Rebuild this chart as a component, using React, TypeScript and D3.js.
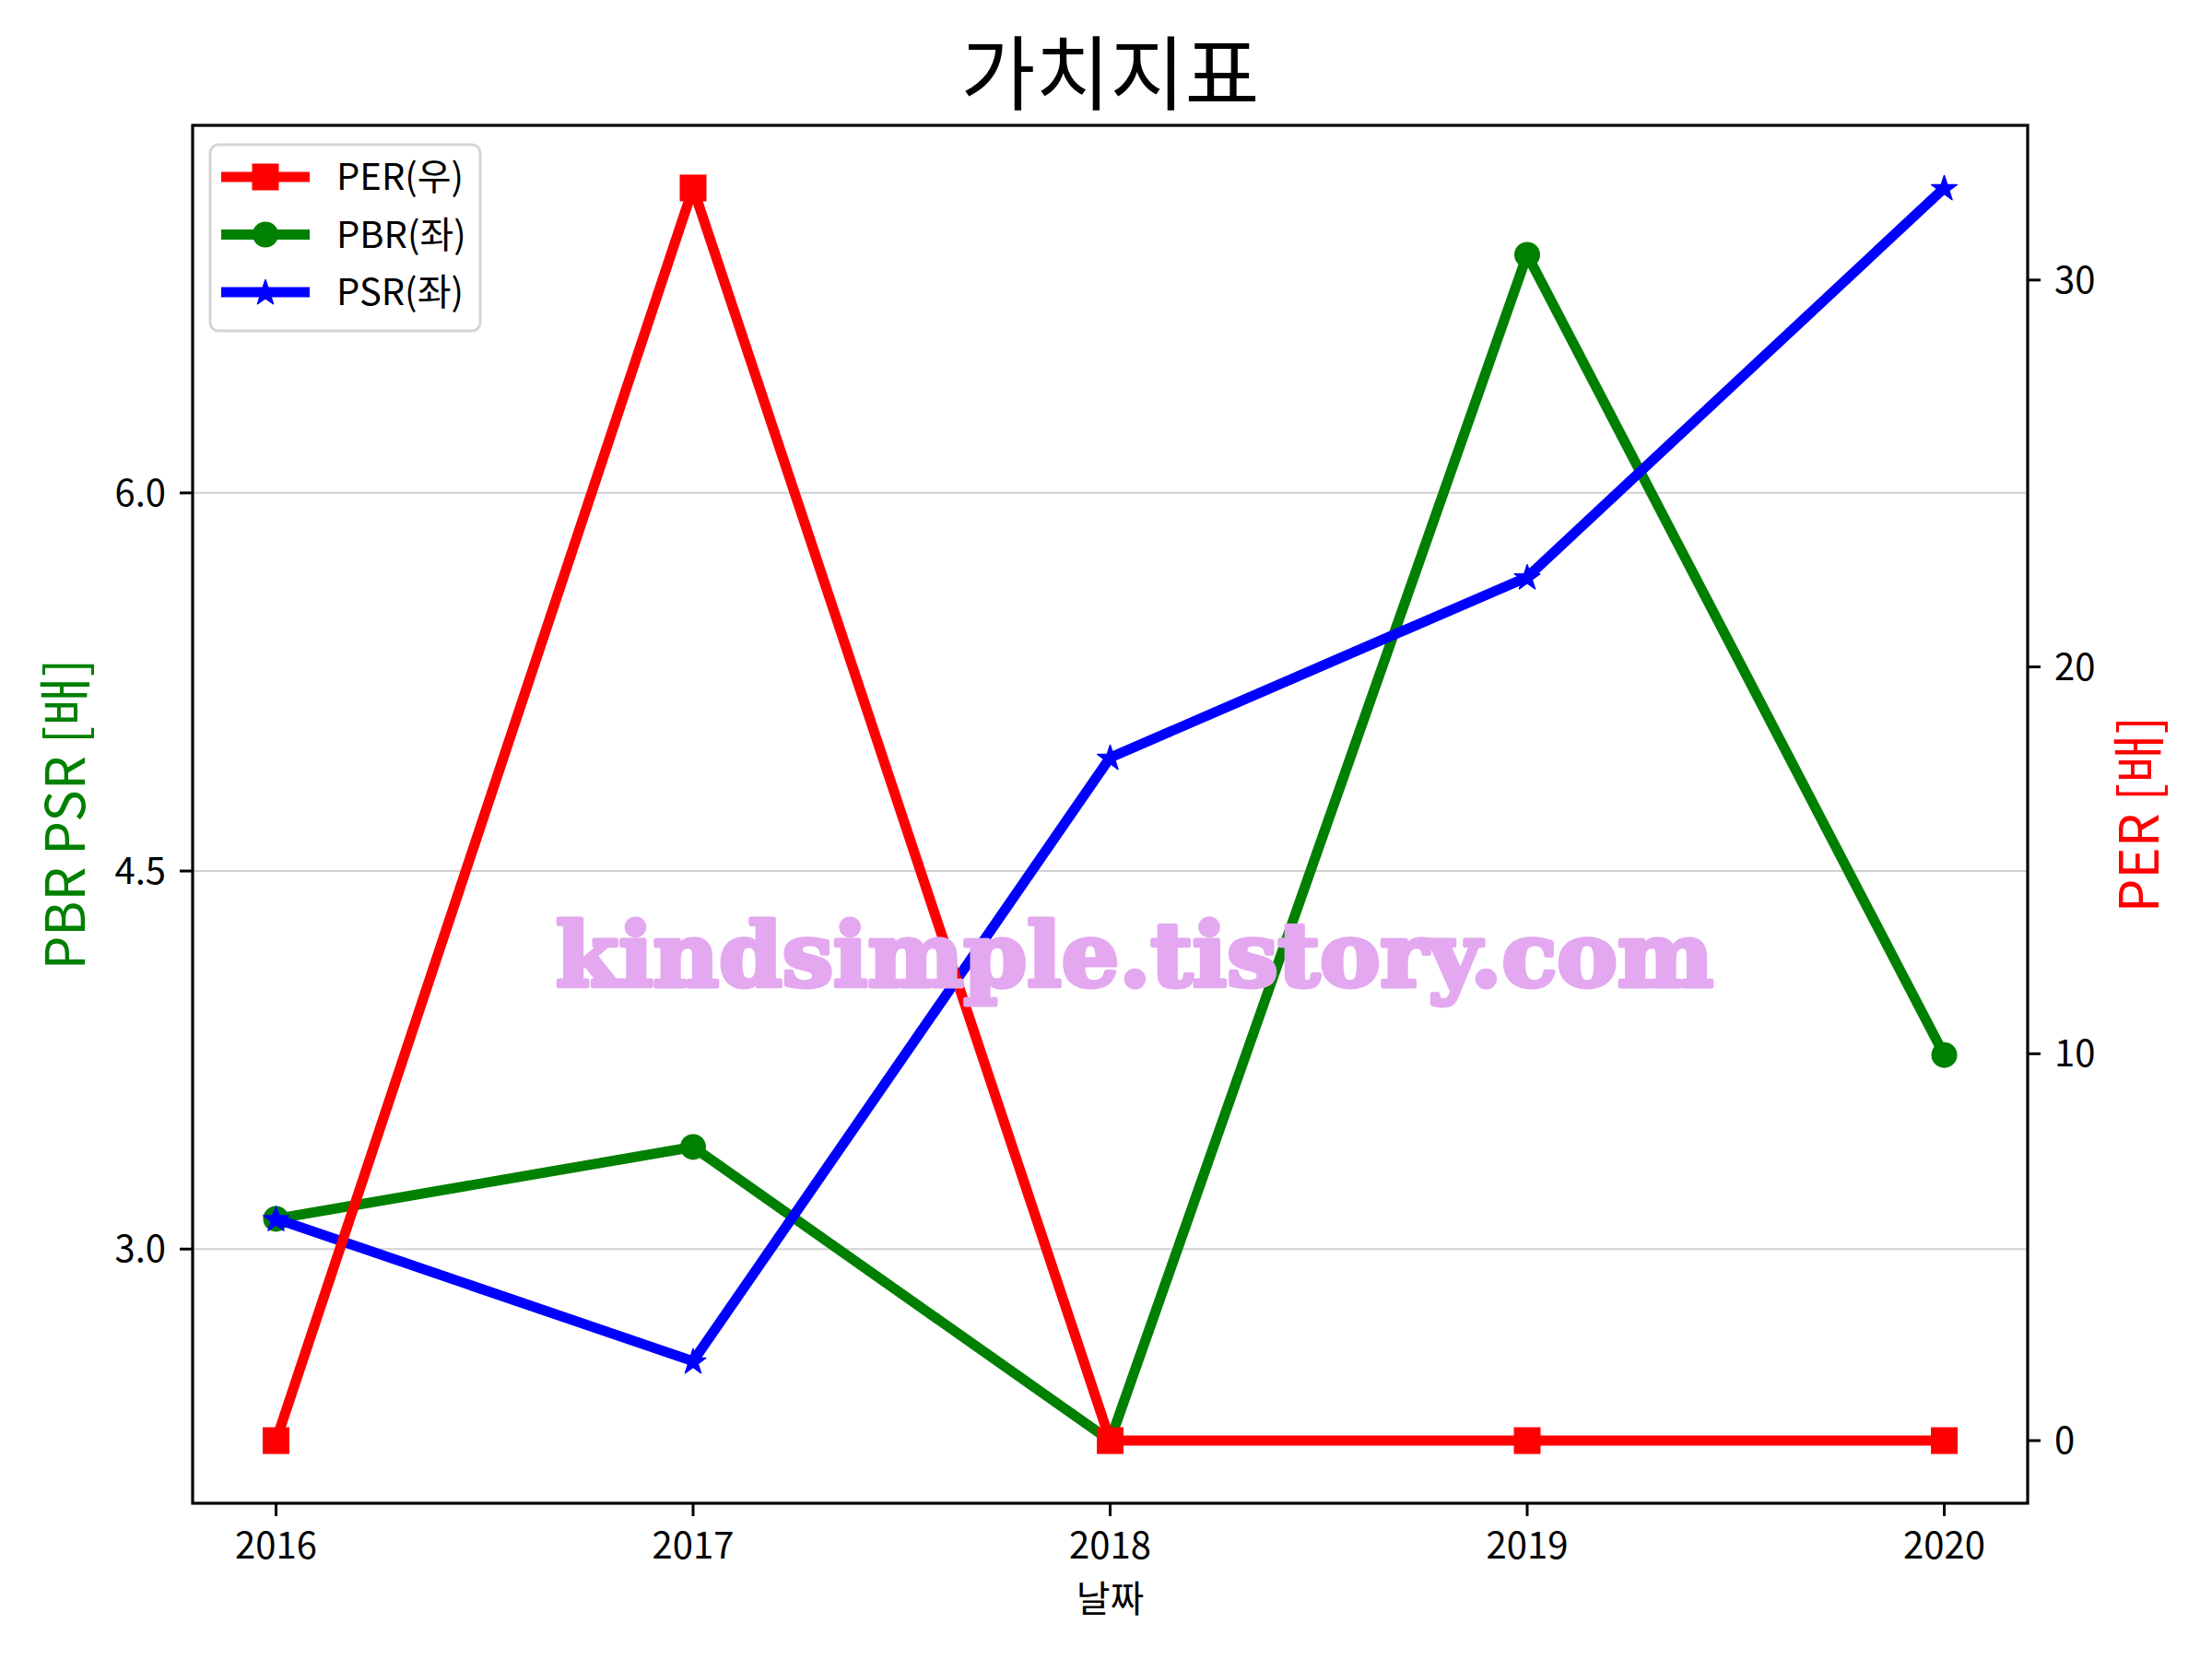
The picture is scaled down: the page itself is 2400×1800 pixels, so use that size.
import React from "react";
import * as d3 from "d3";

const years = [2016, 2017, 2018, 2019, 2020];
const perValues = [0, 32.38, 0, 0, 0];
const pbrValues = [3.12, 3.405, 2.24, 6.945, 3.77];
const psrValues = [3.12, 2.555, 4.95, 5.666, 7.21];
const leftTicks = [3.0, 4.5, 6.0];
const rightTicks = [0, 10, 20, 30];
const legendLabels = ["PER(우)", "PBR(좌)", "PSR(좌)"];
const titleText = "가치지표";
const xLabel = "날짜";
const leftLabel = "PBR PSR [배]";
const rightLabel = "PER [배]";
const watermark = "kindsimple.tistory.com";

const W = 2400, H = 1800;
const L = 209, R = 2200, T = 136, B = 1631;
const FONT = "'Noto Sans CJK KR', 'Noto Sans', sans-serif";

function padDomain(vals: number[]): [number, number] {
  const mn = d3.min(vals)!, mx = d3.max(vals)!;
  const p = (mx - mn) * 0.05;
  return [mn - p, mx + p];
}

function starPath(cx: number, cy: number, ro: number) {
  const ri = ro * 0.381966;
  const pts: string[] = [];
  for (let i = 0; i < 10; i++) {
    const r = i % 2 === 0 ? ro : ri;
    const a = -Math.PI / 2 + (i * Math.PI) / 5;
    pts.push(`${cx + r * Math.cos(a)},${cy + r * Math.sin(a)}`);
  }
  return "M" + pts.join("L") + "Z";
}

function Marker({ kind, x, y, color }: { kind: string; x: number; y: number; color: string }) {
  if (kind === "square") return <rect x={x - 14.5} y={y - 14.5} width={29} height={29} fill={color} />;
  if (kind === "circle") return <circle cx={x} cy={y} r={14} fill={color} />;
  return <path d={starPath(x, y + 1, 14.5)} fill={color} stroke={color} strokeWidth={1.5} strokeLinejoin="round" />;
}

export default function App() {
  const x = d3.scaleLinear().domain([2015.8, 2020.2]).range([L, R]);
  const yL = d3.scaleLinear().domain(padDomain([...pbrValues, ...psrValues])).range([B, T]);
  const yR = d3.scaleLinear().domain(padDomain(perValues)).range([B, T]);

  const lineL = d3.line<number>().x((_, i) => x(years[i])).y((d) => yL(d));
  const lineR = d3.line<number>().x((_, i) => x(years[i])).y((d) => yR(d));

  const series = [
    { vals: pbrValues, color: "#008000", kind: "circle", line: lineL, ys: yL },
    { vals: psrValues, color: "#0000ff", kind: "star", line: lineL, ys: yL },
    { vals: perValues, color: "#ff0000", kind: "square", line: lineR, ys: yR },
  ];
  const legendSeries = [
    { color: "#ff0000", kind: "square" },
    { color: "#008000", kind: "circle" },
    { color: "#0000ff", kind: "star" },
  ];
  const lw = 11;
  const tickLen = 14;

  return (
    <svg width={W} height={H} style={{ position: "absolute", left: 0, top: 0, display: "block" }} fontFamily={FONT}>
      <rect x={0} y={0} width={W} height={H} fill="#ffffff" />
      {/* grid */}
      {leftTicks.map((t) => (
        <line key={"g" + t} x1={L} x2={R} y1={yL(t)} y2={yL(t)} stroke="#d0d0d0" strokeWidth={2} />
      ))}
      {/* series */}
      {series.map((s, si) => (
        <g key={si}>
          <path d={s.line(s.vals)!} fill="none" stroke={s.color} strokeWidth={lw} strokeLinejoin="round" strokeLinecap="square" />
          {s.vals.map((v, i) => (
            <Marker key={i} kind={s.kind} x={x(years[i])} y={s.ys(v)} color={s.color} />
          ))}
        </g>
      ))}
      {/* spines */}
      <rect x={L} y={T} width={R - L} height={B - T} fill="none" stroke="#000" strokeWidth={3.2} />
      {/* x ticks */}
      {years.map((yv) => (
        <g key={"x" + yv}>
          <line x1={x(yv)} x2={x(yv)} y1={B} y2={B + tickLen} stroke="#000" strokeWidth={3} />
          <text x={x(yv)} y={B + 60} textAnchor="middle" fontSize={40} fill="#000">{yv}</text>
        </g>
      ))}
      {/* left ticks */}
      {leftTicks.map((t) => (
        <g key={"l" + t}>
          <line x1={L - tickLen} x2={L} y1={yL(t)} y2={yL(t)} stroke="#000" strokeWidth={3} />
          <text x={L - 29} y={yL(t) + 14} textAnchor="end" fontSize={40} fill="#000">{t.toFixed(1)}</text>
        </g>
      ))}
      {/* right ticks */}
      {rightTicks.map((t) => (
        <g key={"r" + t}>
          <line x1={R} x2={R + tickLen} y1={yR(t)} y2={yR(t)} stroke="#000" strokeWidth={3} />
          <text x={R + 29} y={yR(t) + 14} textAnchor="start" fontSize={40} fill="#000">{t}</text>
        </g>
      ))}
      {/* labels */}
      <text x={(L + R) / 2} y={112} textAnchor="middle" fontSize={88} fill="#000">{titleText}</text>
      <text x={(L + R) / 2} y={1749} textAnchor="middle" fontSize={40} fill="#000">{xLabel}</text>
      <text transform={`translate(92, ${(T + B) / 2}) rotate(-90)`} textAnchor="middle" fontSize={58} fill="#008000">{leftLabel}</text>
      <text transform={`translate(2342, ${(T + B) / 2}) rotate(-90)`} textAnchor="middle" fontSize={58} fill="#ff0000">{rightLabel}</text>
      {/* legend */}
      <g>
        <rect x={228} y={157} width={293} height={202} rx={9} ry={9} fill="#ffffff" fillOpacity={0.8} stroke="#d6d6d6" strokeWidth={3} />
        {legendSeries.map((s, i) => {
          const cy = 192 + i * 62.5;
          return (
            <g key={"lg" + i}>
              <line x1={240} x2={336} y1={cy} y2={cy} stroke={s.color} strokeWidth={lw} />
              <Marker kind={s.kind} x={288} y={cy} color={s.color} />
              <text x={365} y={cy + 14} fontSize={40} fill="#000">{legendLabels[i]}</text>
            </g>
          );
        })}
      </g>
      {/* watermark */}
      <text x={603} y={1070} fontSize={96} fontWeight="bold" fontFamily="'DejaVu Serif', 'Liberation Serif', serif"
        fill="#e3a8ef" stroke="#e3a8ef" strokeWidth={5} strokeLinejoin="round"
        textLength={1256} lengthAdjust="spacingAndGlyphs">{watermark}</text>
    </svg>
  );
}
